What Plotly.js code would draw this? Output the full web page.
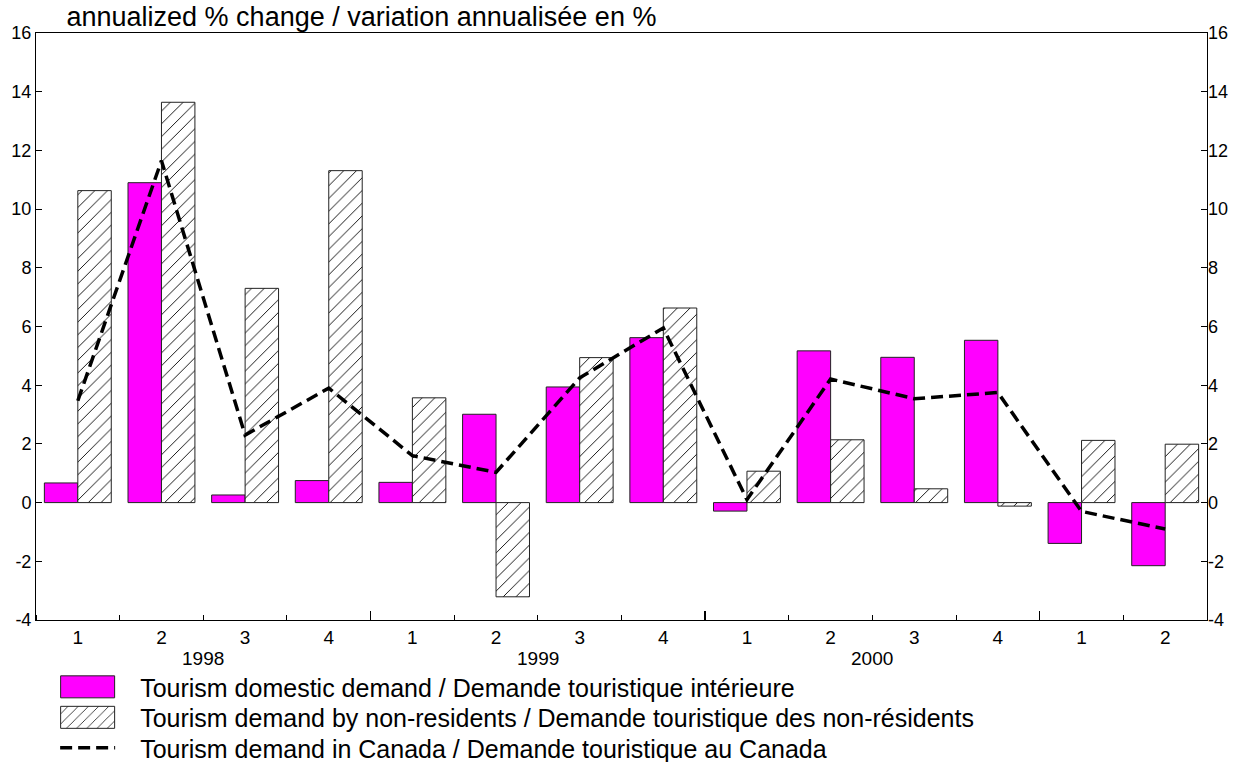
<!DOCTYPE html>
<html>
<head>
<meta charset="utf-8">
<script src="https://cdn.plot.ly/plotly-3.0.1.min.js"></script>
<style>html,body{margin:0;padding:0;background:#fff;}#chart{width:1255px;height:762px;}</style>
</head>
<body>
<div id="chart"></div>
<script>
// Data
var quarters = ['1','2','3','4','1','2','3','4','1','2','3','4','1','2'];
var years = ['1998','1998','1998','1998','1999','1999','1999','1999','2000','2000','2000','2000','2001','2001'];
var yearLabels = ['1998','1999','2000'];
var domestic = [0.67, 10.9, 0.26, 0.75, 0.69, 3.01, 3.94, 5.62, -0.29, 5.17, 4.95, 5.53, -1.39, -2.15];
var nonResidents = [10.63, 13.64, 7.3, 11.31, 3.57, -3.21, 4.94, 6.63, 1.07, 2.14, 0.47, -0.12, 2.12, 1.99];
var canada = [3.47, 11.65, 2.3, 3.9, 1.6, 1.03, 4.25, 5.95, 0.1, 4.21, 3.54, 3.75, -0.3, -0.9];
var yTicks = [-4,-2,0,2,4,6,8,10,12,14,16];
var yTickText = ['-4','-2','0','2','4','6','8','10','12','14','16'];

var idx = quarters.map(function(_, i){ return i; });
var boundaries = idx.map(function(i){ return i - 0.5; }).concat([quarters.length - 0.5]);
var yearBounds = [];
for (var i = 1; i < years.length; i++) { if (years[i] !== years[i-1]) yearBounds.push(i - 0.5); }
var yearCenters = yearLabels.map(function(y){
  var pos = idx.filter(function(i){ return years[i] === y; });
  return (pos[0] + pos[pos.length-1]) / 2;
});

var FONT = 'Liberation Sans, Arial, sans-serif';

var traces = [
  {type:'bar', x: idx, y: domestic, name:'Tourism domestic demand / Demande touristique intérieure',
   marker:{color:'#FF00FF', line:{color:'#222', width:1}}},
  {type:'bar', x: idx, y: nonResidents, name:'Tourism demand by non-residents / Demande touristique des non-résidents',
   marker:{color:'#ffffff', line:{color:'#222', width:1},
     pattern:{shape:'/', fgcolor:'#000', bgcolor:'#fff', size:9, solidity:0.1}}},
  {type:'scatter', mode:'lines', x: idx, y: canada, xaxis:'x2', yaxis:'y2',
   name:'Tourism demand in Canada / Demande touristique au Canada',
   line:{color:'#000', width:3.5, dash:'12px,6px'}}
];

var annotations = yearLabels.map(function(y, k){
  return {x: yearCenters[k], xref:'x', y:0, yref:'paper', yanchor:'top', yshift:-26,
    text: y, showarrow:false, font:{family:FONT, size:19, color:'#000'}};
});

var layout = {
  width:1255, height:762,
  margin:{l:36, r:48, t:33, b:142, autoexpand:false},
  paper_bgcolor:'#fff', plot_bgcolor:'#fff',
  font:{family:FONT, size:18, color:'#000'},
  title:{text:'annualized % change / variation annualisée en %', x:0.053, xanchor:'left',
    y:0.978, yanchor:'middle', yref:'container', font:{family:FONT, size:27, color:'#000'},
    automargin:false},
  barmode:'group', bargap:0.2, bargroupgap:0,
  xaxis:{range:[-0.5, quarters.length-0.5], tickmode:'array', tickvals: idx, ticktext: quarters,
    ticks:'', showgrid:false, zeroline:false, showline:true, linecolor:'#000', linewidth:1, mirror:true,
    tickfont:{family:FONT, size:19}, ticklabelstandoff:0,
    minor:{tickmode:'array', tickvals: boundaries, ticks:'inside', ticklen:5, tickcolor:'#000', tickwidth:1, showgrid:false}},
  xaxis2:{overlaying:'x', matches:'x', anchor:'y', range:[-0.5, quarters.length-0.5],
    tickmode:'array', tickvals: yearBounds, ticks:'inside', ticklen:9, tickcolor:'#000', tickwidth:1.5,
    showticklabels:false, showgrid:false, zeroline:false, showline:false, side:'bottom'},
  yaxis:{range:[-4,16], tickmode:'array', tickvals:yTicks, ticktext:yTickText, ticks:'inside', ticklen:6, tickcolor:'#000',
    showgrid:false, zeroline:false, showline:true, linecolor:'#000', linewidth:1, mirror:true,
    tickfont:{family:FONT, size:18}},
  yaxis2:{overlaying:'y', matches:'y', side:'right', anchor:'x', range:[-4,16], tickmode:'array', tickvals:yTicks,
    ticktext:yTickText, ticks:'inside', ticklen:6, tickcolor:'#000', showgrid:false, zeroline:false, showline:false,
    tickfont:{family:FONT, size:18}},
  showlegend:true,
  legend:{x:0.028, xref:'container', xanchor:'left', y:0.1285, yref:'container', yanchor:'top', orientation:'v',
    traceorder:'normal', font:{family:FONT, size:25, color:'#000'}, itemwidth:95, tracegroupgap:0,
    bgcolor:'rgba(0,0,0,0)'},
  annotations: annotations
};

Plotly.newPlot('chart', traces, layout, {displayModeBar:false, staticPlot:true}).then(function(gd){
  var pts = gd.querySelectorAll('.legend .traces .legendpoints path.legendundefined, .legend .traces .legendpoints path.legendbar');
  pts.forEach(function(p){ p.setAttribute('d','M27,11H-27V-11H27Z'); });
  var lines = gd.querySelectorAll('.legend .traces .legendlines path');
  lines.forEach(function(p){ p.setAttribute('d','M25,0h55'); });
  // tighten legend row spacing to match reference (30px rows)
  var rows = gd.querySelectorAll('.legend .traces');
  var y0 = null;
  rows.forEach(function(r, k){
    var t = r.getAttribute('transform') || '';
    var m = t.match(/translate\(\s*([-\d.]+)[ ,]+([-\d.]+)\s*\)/);
    if (!m) return;
    var x = parseFloat(m[1]), y = parseFloat(m[2]);
    if (y0 === null) y0 = y;
    r.setAttribute('transform', 'translate(' + x + ',' + (y0 + 30.5 * k) + ')');
  });
});
</script>
</body>
</html>
